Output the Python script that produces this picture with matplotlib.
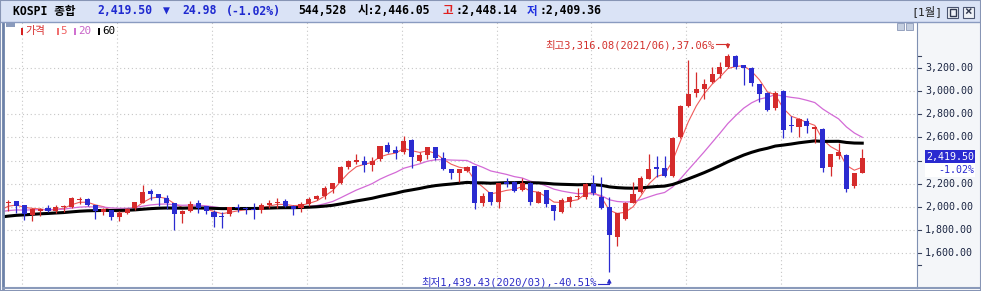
"""KOSPI monthly candle chart with weighted moving averages (HTS style).

    python plot.py
"""
import matplotlib

matplotlib.use("Agg")
import matplotlib.pyplot as plt
import numpy as np
import pandas as pd
from matplotlib.lines import Line2D
from matplotlib.patches import Rectangle

W, H = 981, 291
plt.rcParams["font.family"] = ["DejaVu Sans Mono", "Noto Sans CJK KR"]

UP, DOWN = "#d52b2b", "#2b2bd0"
MA_COLORS = {5: "#f05c5c", 20: "#d36ad6", 60: "#000000"}
MA_WIDTHS = {5: 0.8, 20: 0.9, 60: 2.2}

# ---- data -----------------------------------------------------------------
FIRST_MONTH = "2013-10"
open_ = [1997, 2031, 2047,
         2013, 1932, 1966, 1989, 1962, 1995, 2002, 2060, 2068, 2016, 1952, 1973,
         1910, 1945, 1988, 2031, 2137, 2110, 2074, 2030, 1937, 1962, 2034, 2005,
         1960, 1924, 1935, 1997, 1990, 1980, 1970, 2016, 2033, 2048, 2010, 1988,
         2022, 2068, 2097, 2154, 2205, 2343, 2387, 2392, 2363, 2416, 2532, 2489,
         2474, 2578, 2400, 2448, 2514, 2420, 2324, 2295, 2312, 2353, 2030, 2125,
         2045, 2218, 2218, 2150, 2209, 2033, 2146, 2017, 1960, 2045, 2083, 2089,
         2201, 2089, 1997, 1737, 1896, 2030, 2125, 2241, 2342, 2333, 2266, 2605,
         2870, 2979, 3016, 3074, 3146, 3203, 3301, 3223, 3195, 3059, 2984, 2849,
         3002, 2706, 2690, 2744, 2669, 2675, 2341, 2442, 2447, 2183, 2295]
high = [2060, 2059, 2052,
        2016, 1988, 1990, 2015, 2017, 2018, 2082, 2082, 2075, 2018, 1988, 1975,
        1964, 1990, 2045, 2189, 2155, 2112, 2100, 2035, 1975, 2055, 2058, 2010,
        1973, 1952, 2003, 2024, 1995, 2030, 2031, 2060, 2073, 2068, 2015, 2045,
        2085, 2100, 2178, 2210, 2355, 2402, 2453, 2438, 2433, 2525, 2561, 2525,
        2607, 2583, 2470, 2515, 2518, 2470, 2325, 2325, 2350, 2353, 2120, 2130,
        2210, 2246, 2220, 2250, 2212, 2140, 2150, 2020, 2080, 2098, 2162, 2205,
        2277, 2258, 2083, 1950, 2040, 2217, 2270, 2456, 2440, 2440, 2600, 2878,
        3266, 3160, 3100, 3210, 3250, 3316.08, 3309, 3225, 3210, 3060, 2990, 2995,
        3010, 2784, 2763, 2763, 2700, 2680, 2456, 2553, 2456, 2295, 2499]
low = [1990, 1962, 1950,
       1886, 1882, 1920, 1958, 1945, 1960, 1990, 2025, 2010, 1893, 1930, 1887,
       1880, 1940, 1973, 2030, 2060, 2012, 1985, 1800, 1862, 1955, 1945, 1940,
       1830, 1817, 1920, 1960, 1937, 1892, 1945, 1993, 1988, 2000, 1931, 1960,
       2005, 2060, 2065, 2122, 2196, 2330, 2370, 2300, 2310, 2400, 2466, 2410,
       2460, 2338, 2390, 2410, 2405, 2318, 2240, 2215, 2300, 1980, 2010, 2015,
       1993, 2175, 2130, 2140, 2017, 2030, 2000, 1891, 1950, 2001, 2070, 2070,
       2105, 1980, 1439.43, 1664, 1890, 2030, 2122, 2241, 2260, 2262, 2262, 2590,
       2860, 2945, 2930, 3066, 3110, 3200, 3190, 3051, 3040, 2901, 2828, 2837,
       2591, 2646, 2600, 2640, 2548, 2303, 2270, 2413, 2132, 2160, 2290]
close = [2030, 2044, 2011,
         1941, 1980, 1985, 1962, 1995, 2002, 2076, 2068, 2020, 1964, 1981, 1916,
         1949, 1986, 2041, 2127, 2115, 2074, 2030, 1941, 1963, 2029, 1992, 1961,
         1912, 1916, 1996, 1994, 1983, 1970, 2016, 2035, 2044, 2008, 1983, 2026,
         2067, 2092, 2160, 2205, 2347, 2392, 2403, 2363, 2394, 2523, 2476, 2467,
         2566, 2427, 2446, 2515, 2423, 2326, 2295, 2323, 2343, 2030, 2097, 2041,
         2204, 2195, 2141, 2204, 2042, 2131, 2025, 1968, 2063, 2083, 2088, 2198,
         2119, 1987, 1755, 1948, 2030, 2108, 2249, 2326, 2328, 2267, 2591, 2873,
         2976, 3013, 3061, 3148, 3204, 3297, 3202, 3199, 3069, 2971, 2839, 2978,
         2663, 2699, 2758, 2695, 2686, 2333, 2452, 2472, 2155, 2294, 2419.50]
# closes before the window (2008/11 .. 2013/09), only used to warm up the averages
earlier_close = [1076, 1124,
                 1162, 1063, 1206, 1369, 1396, 1390, 1557, 1592, 1673, 1581, 1556, 1683,
                 1602, 1595, 1693, 1742, 1641, 1698, 1759, 1743, 1873, 1883, 1905, 2051,
                 2070, 1939, 2107, 2192, 2142, 2101, 2133, 1880, 1770, 1929, 1848, 1826,
                 1956, 2030, 2014, 1982, 1843, 1854, 1882, 1905, 1996, 1912, 1933, 1997,
                 1962, 2026, 2005, 1964, 2001, 1863, 1914, 1926, 1997]
ma_periods = [5, 20, 60]
price_ticks = [1600, 1800, 2000, 2200, 2400, 2600, 2800, 3000, 3200]
edge_ticks = [1500, 3300]

# header quote
quote_change, quote_pct, volume = 24.98, -1.02, 544528
day_open, day_high, day_low = 2446.05, 2448.14, 2409.36
hi_label = "최고3,316.08(2021/06),37.06%"
lo_label = "최저1,439.43(2020/03),-40.51%"

# ---- pixel <-> data helpers (layout only) ----------------------------------
PX_MONTH, X0 = 7.905, 0.585
Y3200, PX_PT = 67.7, 0.116


def i_at(px):
    return (px - X0) / PX_MONTH


def v_at(py):
    return 3200 - (py - Y3200) / PX_PT


def fx(px):
    return px / W


def fy(py):
    return 1 - py / H


def wma(s, k):
    w = np.arange(1, k + 1)
    return s.rolling(k).apply(lambda a: a @ w / w.sum(), raw=True)


n = len(close)
x = np.arange(n)
months = pd.period_range(FIRST_MONTH, periods=n, freq="M")
o, h, l, c = (np.asarray(a, dtype=float) for a in (open_, high, low, close))
colors = np.where(c >= o, UP, DOWN)
full = pd.Series(earlier_close + close, dtype=float)
ma = {k: wma(full, k).to_numpy()[len(earlier_close):] for k in ma_periods}

fig = plt.figure(figsize=(W / 100, H / 100), dpi=100)
fig.patch.set_facecolor("white")

# ---- main price panel -------------------------------------------------------
ax = fig.add_axes([fx(3), fy(288), (917 - 3) / W, (288 - 22) / H])
ax.set_xlim(i_at(3), i_at(917))
ax.set_ylim(v_at(288), v_at(22))
ax.set_xticks(x[months.month == 1] - 0.25)
ax.set_yticks(price_ticks)
ax.tick_params(length=0, labelbottom=False, labelleft=False)
ax.grid(True, color="#c6c6c6", linestyle=(0, (1, 2.5)), linewidth=0.8)
ax.set_axisbelow(True)
for side in ("top", "right"):
    ax.spines[side].set_visible(False)
ax.spines["left"].set_color("#6d82a8")
ax.spines["left"].set_linewidth(2)
ax.spines["bottom"].set_color("#8a9aba")
ax.spines["bottom"].set_linewidth(1.5)

for k in ma_periods:
    ax.plot(x, ma[k], color=MA_COLORS[k], lw=MA_WIDTHS[k], zorder=2)

ax.vlines(x, l, h, colors=colors, linewidth=0.9, zorder=3)
ax.bar(x, np.maximum(np.abs(c - o), 9), bottom=np.minimum(o, c), width=0.64,
       color=colors, linewidth=0, zorder=4)

# high / low markers
hi, lo = int(np.argmax(h)), int(np.argmin(l))
ax.text(hi - 1.63, v_at(45), hi_label, ha="right", va="center", fontsize=7.5,
        color="#d3302c", zorder=6)
ax.plot([hi - 1.5, hi], [v_at(43.5)] * 2, color="#d3302c", lw=0.8, zorder=6)
ax.annotate("", xy=(hi, v_at(49)), xytext=(hi, v_at(43.5)), zorder=6,
            arrowprops=dict(arrowstyle="-|>", color="#d3302c", lw=0.8,
                            mutation_scale=6, shrinkA=0, shrinkB=0))
ax.text(lo - 1.55, v_at(282), lo_label, ha="right", va="center", fontsize=7.5,
        color="#2b2bc8", zorder=6)
ax.plot([lo - 1.4, lo], [v_at(284.3)] * 2, color="#2b2bc8", lw=0.8, zorder=6)
ax.annotate("", xy=(lo, v_at(278.5)), xytext=(lo, v_at(284.3)), zorder=6,
            arrowprops=dict(arrowstyle="-|>", color="#2b2bc8", lw=0.8,
                            mutation_scale=6, shrinkA=0, shrinkB=0))

# ---- right scale panel -------------------------------------------------------
axr = fig.add_axes([fx(917), fy(288), 64 / W, (288 - 22) / H])
axr.set_facecolor("#f4f6f9")
axr.set_xlim(0, 64)
axr.set_ylim(ax.get_ylim())
axr.set_xticks([])
axr.set_yticks([])
for side in ("top", "right"):
    axr.spines[side].set_visible(False)
axr.spines["left"].set_color("#7f90b2")
axr.spines["bottom"].set_color("#8a9aba")
axr.spines["bottom"].set_linewidth(1.5)

last = close[-1]
box_h = 13.3 / PX_PT
box_y = last + 13

for v in price_ticks + edge_ticks:
    axr.plot([1, 4], [v, v], color="#3a4460", lw=0.8)
for v in price_ticks:
    if abs(v - box_y) < box_h:  # covered by the last-price box
        continue
    axr.text(8, v, f"{v:,.2f}", ha="left", va="center", fontsize=7.2, color="#1d2744")

axr.add_patch(Rectangle((8, box_y - box_h / 2), 50, box_h, facecolor="#2a2ad0",
                        linewidth=0, zorder=5))
axr.text(57.5, box_y, f"{last:,.2f}", ha="right", va="center", fontsize=7.2,
         color="white", zorder=6)
axr.add_patch(Rectangle((8, box_y - box_h * 1.5), 50, box_h, facecolor="white",
                        linewidth=0, zorder=5))
axr.text(57.5, box_y - box_h, f"{quote_pct:.2f}%", ha="right", va="center",
         fontsize=7.2, color="#2a2ad0", zorder=6)

# ---- header bar -------------------------------------------------------------
fig.patches.append(Rectangle((0, fy(21.5)), 1, 21.5 / H, transform=fig.transFigure,
                             facecolor="#dae3f6", edgecolor="none", zorder=0))
fig.add_artist(Line2D([0, 1], [fy(21.5)] * 2, color="#8a9bc0", lw=1))
hdr = dict(va="center", fontsize=8.3, fontweight="bold")
blue_hdr = "#1f2ad0"
fig.text(fx(13), fy(11), "KOSPI 종합", color="black", **hdr)
fig.text(fx(97), fy(11), f"{last:,.2f}", color=blue_hdr, **hdr)
fig.text(fx(163), fy(11), "▼", color=blue_hdr, **hdr)
fig.text(fx(182), fy(11), f"{quote_change:.2f}", color=blue_hdr, **hdr)
fig.text(fx(226), fy(11), f"({quote_pct:.2f}%)", color=blue_hdr, **hdr)
fig.text(fx(298), fy(11), f"{volume:,}", color="black", **hdr)
fig.text(fx(358), fy(11), f"시:{day_open:,.2f}", color="black", **hdr)
fig.text(fx(443), fy(11), "고", color="#e02020", **hdr)
fig.text(fx(455), fy(11), f":{day_high:,.2f}", color="black", **hdr)
fig.text(fx(527), fy(11), "저", color="#2030e0", **hdr)
fig.text(fx(539), fy(11), f":{day_low:,.2f}", color="black", **hdr)
fig.text(fx(911), fy(11), "[1월]", va="center", fontsize=8.2, color="#202020")
for bx in (947, 963):
    fig.patches.append(Rectangle((fx(bx), fy(18)), 11 / W, 11 / H,
                                 transform=fig.transFigure, facecolor="#eef1f7",
                                 edgecolor="#4a5470", lw=0.8))
fig.patches.append(Rectangle((fx(949.5), fy(15.5)), 6 / W, 6 / H, transform=fig.transFigure,
                             facecolor="none", edgecolor="#303850", lw=1))
fig.text(fx(968.5), fy(12.5), "×", ha="center", va="center", fontsize=9,
         fontweight="bold", color="#303850")

# ---- legend row and mini buttons --------------------------------------------
fig.patches.append(Rectangle((fx(6), fy(26.7)), 9 / W, 4 / H, transform=fig.transFigure,
                             facecolor="#8a9bbd", edgecolor="none", zorder=5))
legend_items = [(20.5, 25.5, "가격", "#d62020", "#d93030"),
                (56.5, 60.5, "5", "#f07070", "#f06060"),
                (73.5, 78, "20", "#d070d0", "#c865c8"),
                (97.5, 102, "60", "#000000", "#000000")]
for bar_x, text_x, label, bar_c, text_c in legend_items:
    fig.patches.append(Rectangle((fx(bar_x), fy(35)), 2.6 / W, 7 / H,
                                 transform=fig.transFigure, facecolor=bar_c,
                                 edgecolor="none", zorder=5))
    fig.text(fx(text_x), fy(31.3), label, va="center", fontsize=7.8, color=text_c, zorder=5)
for bx in (897, 906):
    fig.patches.append(Rectangle((fx(bx), fy(29.5)), 7 / W, 6.5 / H,
                                 transform=fig.transFigure, facecolor="#c5cfe0",
                                 edgecolor="#8a98b8", lw=0.6, zorder=5))

fig.patches.append(Rectangle((0, 0), 1, 1, transform=fig.transFigure, fill=False,
                             edgecolor="#8795b5", lw=1.5, zorder=10))

fig.savefig("out.png", dpi=100)
